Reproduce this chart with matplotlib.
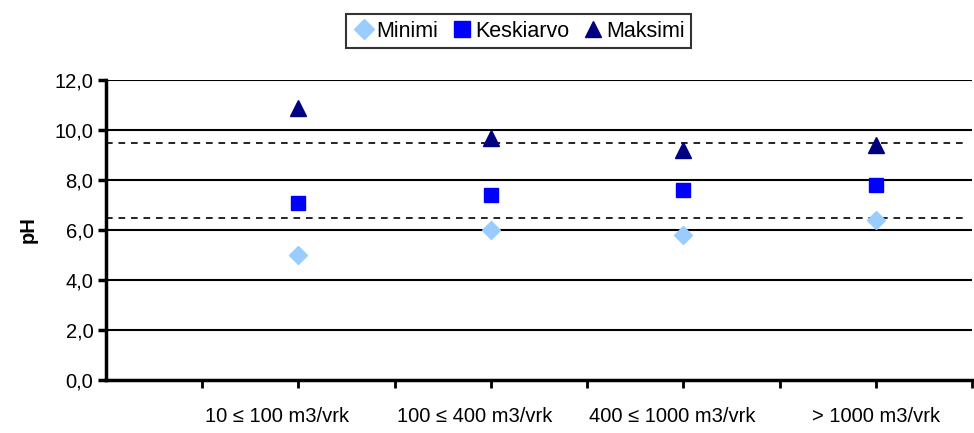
import matplotlib
matplotlib.use("Agg")
import matplotlib.pyplot as plt
from matplotlib.ticker import FixedLocator, FuncFormatter

plt.rcParams['font.family'] = ['Liberation Sans', 'DejaVu Sans']

# pH by plant size class
categories = ["10 ≤ 100 m3/vrk", "100 ≤ 400 m3/vrk", "400 ≤ 1000 m3/vrk", "> 1000 m3/vrk"]
minimi = [5.0, 6.0, 5.8, 6.4]
keskiarvo = [7.1, 7.4, 7.6, 7.8]
maksimi = [10.9, 9.7, 9.2, 9.4]
limits = [6.5, 9.5]

cat_pos = [2, 4, 6, 8]
label_pos = [1.78, 3.83, 5.88, 8.0]

fig = plt.figure(figsize=(9.74, 4.33), dpi=100)
ax = fig.add_axes([0.1088, 0.1224, 0.8892, 0.6928])

ax.set_xlim(0, 9)
ax.set_ylim(0, 12)

# solid horizontal grid
for y in range(2, 13, 2):
    ax.axhline(y, color='black', lw=1.5, zorder=1)
# dashed limit lines
for y in limits:
    ax.plot([0, 8.95], [y, y], color='black', lw=1.2, ls=(0, (4, 3.5)), zorder=1)

ax.plot(cat_pos, minimi, ls='none', marker='D', ms=9, color='#99CCFF',
        mec='#99CCFF', label='Minimi', zorder=3)
ax.plot(cat_pos, keskiarvo, ls='none', marker='s', ms=10.5, color='#0000FF',
        mec='#0000FF', label='Keskiarvo', zorder=3)
ax.plot(cat_pos, maksimi, ls='none', marker='^', ms=11, color='#000080',
        mec='#000080', label='Maksimi', zorder=3)

for sp in ['top', 'right']:
    ax.spines[sp].set_visible(False)
ax.spines['left'].set_linewidth(2.5)
ax.spines['bottom'].set_linewidth(2.5)

ax.yaxis.set_major_locator(FixedLocator(range(0, 13, 2)))
ax.yaxis.set_major_formatter(FuncFormatter(lambda v, p: f"{v:.1f}".replace('.', ',')))
ax.tick_params(axis='y', direction='out', length=6, width=2.5, labelsize=14.5, pad=3)

ax.xaxis.set_major_locator(FixedLocator(range(1, 10)))
ax.tick_params(axis='x', direction='out', length=6, width=2, labelbottom=False)

ax.set_ylabel('pH', fontsize=14.5, fontweight='bold', labelpad=12)

for xp, lab in zip(label_pos, categories):
    ax.text(xp, -1.45, lab, ha='center', va='center', fontsize=14.5,
            transform=ax.transData)

leg = ax.legend(loc='center', bbox_to_anchor=(0.4765, 1.163), ncol=3,
                frameon=True, fancybox=False, edgecolor='black', fontsize=15.5,
                handletextpad=0.1, columnspacing=0.6, handlelength=1.0,
                borderpad=0.3, borderaxespad=0, markerscale=1.1)
leg.get_frame().set_linewidth(1.5)

fig.savefig('out.png', dpi=100)
